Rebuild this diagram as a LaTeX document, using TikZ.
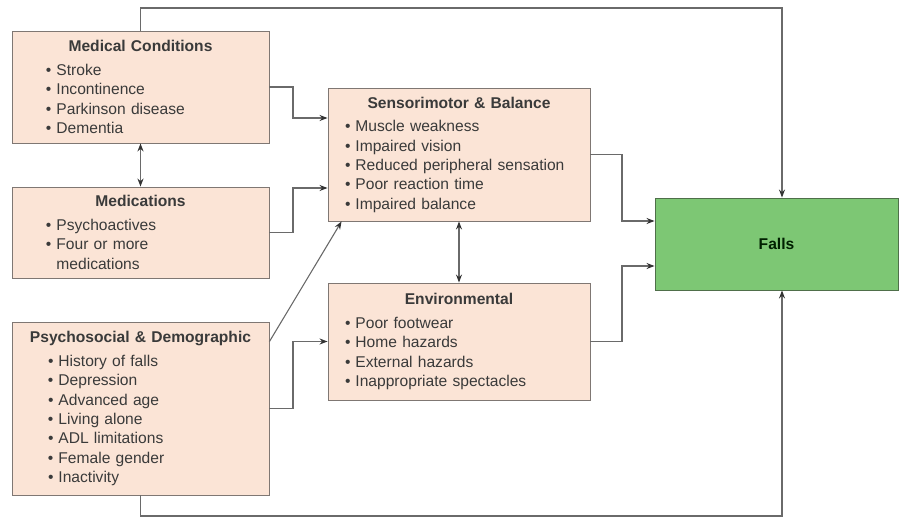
\documentclass[tikz,border=0pt]{standalone}
\usepackage{fontspec}
\setmainfont{Liberation Sans}
\usetikzlibrary{arrows.meta}
\definecolor{peach}{HTML}{FBE4D6}
\definecolor{boxline}{HTML}{7F7773}
\definecolor{fallsgreen}{HTML}{7DC774}
\definecolor{fallsline}{HTML}{4F6F4A}
\definecolor{linecol}{HTML}{6A6A6A}
\definecolor{tipcol}{HTML}{333333}
\definecolor{txt}{HTML}{3A3A3A}
\newlength\bulind
\newcommand\ttl[1]{\makebox[\linewidth][c]{\bfseries #1}\\[4.5pt]}
\newcommand\itm[1]{\hspace*{\bulind}•\hspace{5pt}#1}
\newcommand\cont{\hspace*{\bulind}\phantom{•\hspace{5pt}}}
\tikzset{
  riskbox/.style={draw=boxline, fill=peach, line width=0.9pt, inner sep=0pt,
    align=left, text=txt, font=\fontsize{15.6}{19.3}\selectfont},
  arr/.style={draw=linecol, line width=1.1pt, -{Stealth[length=8pt,width=6pt,color=tipcol]}},
  darr/.style={draw=linecol, line width=1.1pt, {Stealth[length=8pt,width=6pt,color=tipcol]}-{Stealth[length=8pt,width=6pt,color=tipcol]}}
}
\begin{document}
\begin{tikzpicture}[x=1pt,y=-1pt]
\useasboundingbox (0,0) rectangle (903,519);

\node[riskbox, text width=257pt, minimum height=112pt] (mc) at (140.5,87)
 {\setlength\bulind{34pt}\ttl{Medical Conditions}
  \itm{Stroke}\\ \itm{Incontinence}\\ \itm{Parkinson disease}\\ \itm{Dementia}};

\node[riskbox, text width=257pt, minimum height=91pt] (med) at (140.5,232.5)
 {\setlength\bulind{34pt}\ttl{Medications}
  \itm{Psychoactives}\\ \itm{Four or more}\\ \cont medications};

\node[riskbox, text width=257pt, minimum height=173pt] (pd) at (140.5,408.5)
 {\setlength\bulind{36pt}\ttl{Psychosocial \& Demographic}
  \itm{History of falls}\\ \itm{Depression}\\ \itm{Advanced age}\\ \itm{Living alone}\\
  \itm{ADL limitations}\\ \itm{Female gender}\\ \itm{Inactivity}};

\node[riskbox, text width=262pt, minimum height=133pt] (sb) at (459,154.5)
 {\setlength\bulind{17pt}\ttl{Sensorimotor \& Balance}
  \itm{Muscle weakness}\\ \itm{Impaired vision}\\ \itm{Reduced peripheral sensation}\\
  \itm{Poor reaction time}\\ \itm{Impaired balance}};

\node[riskbox, text width=262pt, minimum height=117pt] (env) at (459,341.5)
 {\setlength\bulind{17pt}\ttl{Environmental}
  \itm{Poor footwear}\\ \itm{Home hazards}\\ \itm{External hazards}\\ \itm{Inappropriate spectacles}};

\node[draw=fallsline, fill=fallsgreen, line width=0.9pt, minimum width=243pt, minimum height=92pt,
  inner sep=0pt, text=black!80!green!60!black, font=\fontsize{15.6}{19}\selectfont\bfseries]
  (falls) at (776.5,244) {Falls};

% connectors
\draw[darr] (mc.south) -- (med.north);
\draw[arr] (mc.east) -- (293,87) -- (293,118) -- (sb.west |- 0,118);
\draw[arr] (med.east) -- (293,232.5) -- (293,188) -- (sb.west |- 0,188);
\draw[arr] ([yshift=-20pt]pd.north east) -- ([xshift=14pt]sb.south west);
\draw[arr] (pd.east) -- (293,408.5) |- (env.west);
\draw[darr] (sb.south) -- (env.north);
\draw[arr] (sb.east) -- (622,154.5) -- (622,221) -- (falls.west |- 0,221);
\draw[arr] (env.east) -- (622,341.5) -- (622,266) -- (falls.west |- 0,266);
\draw[arr] (mc.north) -- (140.5,8) -- (782,8) -- (falls.north -| 782,0);
\draw[arr] (pd.south) -- (140.5,516) -- (782,516) -- (falls.south -| 782,0);
\end{tikzpicture}
\end{document}
